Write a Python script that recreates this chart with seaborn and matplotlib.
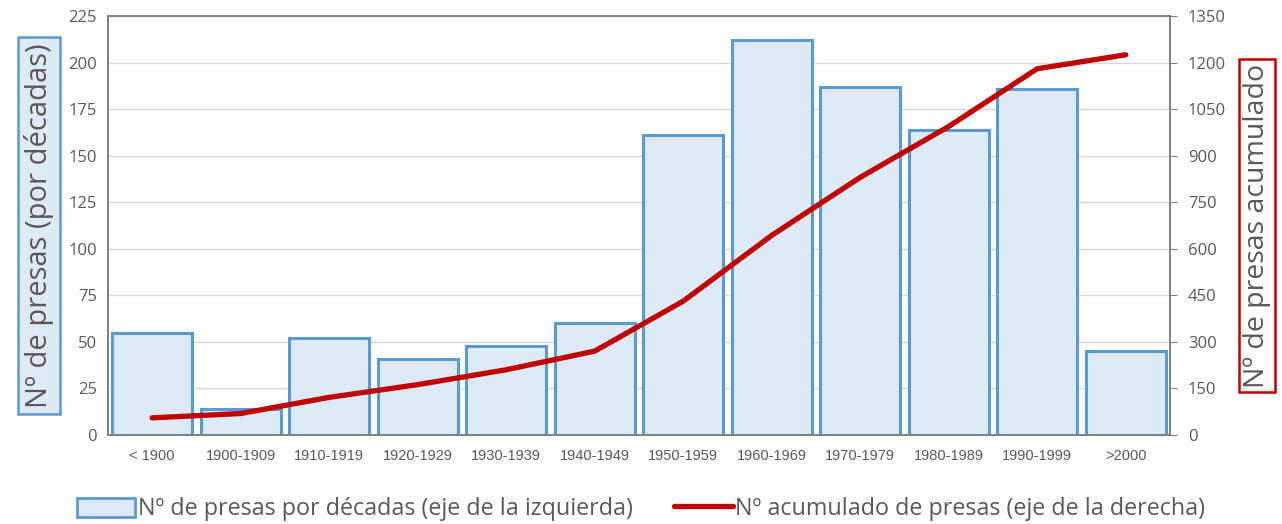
import numpy as np
import matplotlib
matplotlib.use("Agg")
import matplotlib.pyplot as plt
import matplotlib.lines as mlines
import matplotlib.patches as mpatches
import seaborn as sns

# Datos
decadas = ["< 1900", "1900-1909", "1910-1919", "1920-1929", "1930-1939", "1940-1949",
           "1950-1959", "1960-1969", "1970-1979", "1980-1989", "1990-1999", ">2000"]
presas = [55, 14, 52, 41, 48, 60, 161, 212, 187, 164, 186, 45]
acumulado = [55, 69, 121, 162, 210, 270, 431, 643, 830, 994, 1180, 1225]

sns.set_style("white")
plt.rcParams["font.family"] = ["Open Sans", "DejaVu Sans"]

bar_face = "#DEEAF6"
bar_edge = "#5B9BD5"
line_col = "#C00000"
txt_col = "#595959"

fig = plt.figure(figsize=(12.82, 5.24), dpi=100)
ax = fig.add_axes([0.0842, 0.170, 0.8284, 0.7995])

sns.barplot(x=decadas, y=presas, ax=ax, color=bar_face, edgecolor=bar_edge,
            linewidth=2.2, width=0.9, saturation=1, zorder=2)
ax.set_ylim(0, 225)
ax.set_yticks(np.arange(0, 226, 25))
ax.grid(axis="y", color="#D9D9D9", linewidth=1, zorder=0)
ax.set_axisbelow(True)
ax.set_xlim(-0.5, len(decadas) - 0.5)
ax.tick_params(axis="y", length=0, labelsize=12, labelcolor=txt_col, pad=8)
ax.tick_params(axis="x", length=0, labelcolor=txt_col, pad=10)
for lab in ax.get_xticklabels():
    lab.set_family(["Liberation Sans", "DejaVu Sans"])
    lab.set_fontsize(10.5)
for s in ax.spines.values():
    s.set_color("#808080")
    s.set_linewidth(1.2)
ax.set_xlabel("")
ax.set_ylabel("Nº de presas (por décadas)", fontsize=21, color=txt_col, labelpad=10,
              bbox=dict(boxstyle="square,pad=0.2", facecolor=bar_face,
                        edgecolor=bar_edge, linewidth=1.8))

ax2 = ax.twinx()
sns.lineplot(x=np.arange(len(decadas)), y=acumulado, ax=ax2, color=line_col,
             linewidth=3.8, zorder=3)
ax2.set_ylim(0, 1350)
ax2.set_yticks(np.arange(0, 1351, 150))
ax2.tick_params(axis="y", direction="out", length=5, color="#808080",
                labelsize=12, labelcolor=txt_col, pad=8)
for s in ax2.spines.values():
    s.set_color("#808080")
    s.set_linewidth(1.2)
ax2.set_ylabel("Nº de presas acumulado", fontsize=20.5, color=txt_col, labelpad=12,
               bbox=dict(boxstyle="square,pad=0.15", facecolor="white",
                         edgecolor=line_col, linewidth=1.8))

handles = [
    mpatches.Patch(facecolor=bar_face, edgecolor=bar_edge, linewidth=2,
                   label="Nº de presas por décadas (eje de la izquierda)"),
    mlines.Line2D([], [], color=line_col, linewidth=3.8,
                  label="Nº acumulado de presas (eje de la derecha)"),
]
fig.legend(handles=handles, loc="center", bbox_to_anchor=(0.5, 0.028), ncol=2,
           frameon=False, fontsize=16.8, labelcolor=txt_col, handlelength=2.5,
           handleheight=0.9, handletextpad=0.1, columnspacing=1.8)

fig.savefig("out.png", dpi=100)
